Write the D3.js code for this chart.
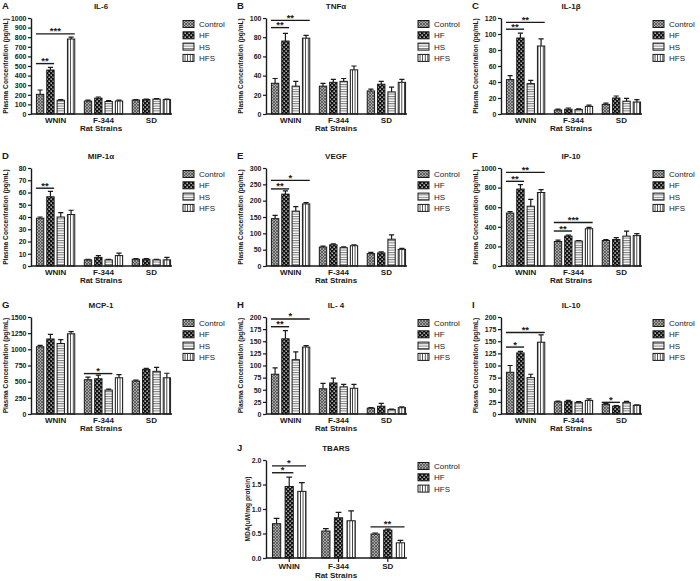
<!DOCTYPE html>
<html><head><meta charset="utf-8">
<script src="https://cdn.jsdelivr.net/npm/d3@7"></script>
<style>body{margin:0;background:#fff}svg{display:block;font-family:"Liberation Sans",Arial,sans-serif}</style>
</head><body><svg id="c" width="700" height="581"></svg>
<script>
const strains = ["WNIN","F-344","SD"];
const series4 = ["Control","HF","HS","HFS"];
const series3 = ["Control","HF","HFS"];

const il6Mean = [[205,458,143,781],[135,165,130,135],[145,150,155,150]];
const il6Err  = [[45,28,6,20],[10,12,10,10],[5,5,5,5]];
const il6Sig  = [[0,0,1,525,"**"],[0,0,3,835,"***"]];

const tnfMean = [[32,76,29,79],[29,33,34,46],[24,31,23,33]];
const tnfErr  = [[5,8,5,3],[3,3,3,4],[2,3,5,3]];
const tnfSig  = [[0,0,1,90,"**"],[0,0,3,97.5,"**"]];

const il1bMean = [[43,95,38,85],[5,6,5.5,9.5],[12,20,16,15]];
const il1bErr  = [[5,6,4,9],[1,1.5,1,1.5],[1.5,2.5,3.5,3]];
const il1bSig  = [[0,0,1,106,"**"],[0,0,3,114.5,"**"]];

const mipMean = [[39,56.5,40,42],[5,7,5,8.5],[5.5,5.5,5,5]];
const mipErr  = [[1,4.5,3.5,3.5],[0.5,1.5,0.5,2],[0.5,0.5,0.5,2]];
const mipSig  = [[0,0,1,63.5,"**"]];

const vegfMean = [[145,220,168,190],[58,65,56,62],[38,40,82,51]];
const vegfErr  = [[10,10,14,4],[3,3,3,3],[4,3,13,3]];
const vegfSig  = [[0,0,1,236,"**"],[0,0,3,262,"*"]];

const ip10Mean = [[540,785,610,750],[250,305,255,380],[260,270,305,310]];
const ip10Err  = [[15,45,70,30],[15,10,5,15],[10,20,50,20]];
const ip10Sig  = [[0,0,1,864,"**"],[0,0,3,955,"**"],[1,0,1,357,"**"],[1,0,3,444,"***"]];

const mcpMean = [[1040,1160,1090,1240],[530,545,370,560],[510,690,660,560]];
const mcpErr  = [[20,70,60,35],[40,55,15,50],[15,15,60,70]];
const mcpSig  = [[1,0,2,625,"*"]];

const il4Mean = [[82,155,112,138],[52,64,56,53],[12,16,9,13]];
const il4Err  = [[13,17,16,3],[11,10,5,8],[1,6,1,2]];
const il4Sig  = [[0,0,1,180,"**"],[0,0,3,196,"*"]];

const il10Mean = [[86,126,75,148],[25,26,24,28],[20,16,24,18]];
const il10Err  = [[14,3,7,15],[1.5,2,1.5,3],[1.5,1.5,2,1]];
const il10Sig  = [[0,0,1,138,"*"],[0,0,3,168,"**"],[2,0,1,24,"*"]];

const tbarsMean = [[0.70,1.46,1.36],[0.55,0.82,0.76],[0.49,0.57,0.31]];
const tbarsErr  = [[0.11,0.19,0.18],[0.05,0.11,0.20],[0.02,0.02,0.05]];
const tbarsSig  = [[0,0,1,1.74,"*"],[0,0,2,1.88,"*"],[2,0,2,0.635,"**"]];

const yLabelConc = "Plasma Concentration (pg/mL)";
const yLabelMDA = "MDA(uM/mg protein)";

const panels = [
  {letter:"A", title:"IL-6", mean:il6Mean, err:il6Err, sig:il6Sig, max:1000, step:100, series:series4, yl:yLabelConc},
  {letter:"B", title:"TNFα", mean:tnfMean, err:tnfErr, sig:tnfSig, max:100, step:20, series:series4, yl:yLabelConc},
  {letter:"C", title:"IL-1β", mean:il1bMean, err:il1bErr, sig:il1bSig, max:120, step:20, series:series4, yl:yLabelConc},
  {letter:"D", title:"MIP-1α", mean:mipMean, err:mipErr, sig:mipSig, max:80, step:10, series:series4, yl:yLabelConc},
  {letter:"E", title:"VEGF", mean:vegfMean, err:vegfErr, sig:vegfSig, max:300, step:50, series:series4, yl:yLabelConc},
  {letter:"F", title:"IP-10", mean:ip10Mean, err:ip10Err, sig:ip10Sig, max:1000, step:200, series:series4, yl:yLabelConc},
  {letter:"G", title:"MCP-1", mean:mcpMean, err:mcpErr, sig:mcpSig, max:1500, step:250, series:series4, yl:yLabelConc},
  {letter:"H", title:"IL- 4", mean:il4Mean, err:il4Err, sig:il4Sig, max:200, step:25, series:series4, yl:yLabelConc},
  {letter:"I", title:"IL-10", mean:il10Mean, err:il10Err, sig:il10Sig, max:200, step:25, series:series4, yl:yLabelConc},
  {letter:"J", title:"TBARS", mean:tbarsMean, err:tbarsErr, sig:tbarsSig, max:2, step:0.5, series:series3, yl:yLabelMDA, fmt:".1f", j:true}
];
// layout
const colX = [0,235,470];
const rowTop = [18,168,317,460];
const rowBot = [114,266,414,558];
const cells = [[0,0],[1,0],[2,0],[0,1],[1,1],[2,1],[0,2],[1,2],[2,2],[1,3]];

const svg = d3.select("#c");
const defs = svg.append("defs");
// patterns
const pc = defs.append("pattern").attr("id","p-Control").attr("patternUnits","userSpaceOnUse").attr("width",3).attr("height",3);
pc.append("rect").attr("width",3).attr("height",3).attr("fill","#a8a8a8");
pc.append("path").attr("d","M0,0L3,3M3,0L0,3").attr("stroke","#444").attr("stroke-width",0.7);
const ph = defs.append("pattern").attr("id","p-HF").attr("patternUnits","userSpaceOnUse").attr("width",4).attr("height",4);
ph.append("rect").attr("width",4).attr("height",4).attr("fill","#111");
ph.append("rect").attr("x",0.5).attr("y",0.5).attr("width",1.3).attr("height",1.3).attr("fill","#fff");
ph.append("rect").attr("x",2.5).attr("y",2.5).attr("width",1.3).attr("height",1.3).attr("fill","#fff");
const ps = defs.append("pattern").attr("id","p-HS").attr("patternUnits","userSpaceOnUse").attr("width",3).attr("height",2.4);
ps.append("rect").attr("width",3).attr("height",2.4).attr("fill","#fff");
ps.append("rect").attr("width",3).attr("height",1).attr("fill","#777");
const pf = defs.append("pattern").attr("id","p-HFS").attr("patternUnits","userSpaceOnUse").attr("width",2.6).attr("height",3);
pf.append("rect").attr("width",2.6).attr("height",3).attr("fill","#fff");
pf.append("rect").attr("width",0.8).attr("height",3).attr("fill","#222");

const ink = "#1a1a1a";

panels.forEach((p,i)=>{
  const [c,r] = cells[i];
  const ox = colX[c], top = rowTop[r], bot = rowBot[r];
  const g = svg.append("g").attr("transform",`translate(${ox},0)`);
  const x0 = 31, x1 = 172;
  const xs = d3.scaleBand().domain(strains).range([35,172])
    .paddingInner(p.j?0.32:0.2).paddingOuter(p.j?0.05:0.03);
  const xi = d3.scaleBand().domain(p.series).range([0,xs.bandwidth()]).paddingInner(p.j?0.35:0.29);
  const y = d3.scaleLinear().domain([0,p.max]).range([bot,top]);

  // letter & title
  g.append("text").attr("x",2).attr("y",top-9).attr("font-size",9.5).attr("font-weight","bold").attr("fill",ink).text(p.letter);
  g.append("text").attr("x",101).attr("y",top-9.5).attr("text-anchor","middle").attr("font-size",8).attr("font-weight","bold").attr("fill",ink).text(p.title);

  // y axis
  const ticks = d3.range(0,p.max+p.step/2,p.step);
  const ya = d3.axisLeft(y).tickValues(ticks).tickSize(3).tickPadding(1.5).tickSizeOuter(0);
  if(p.fmt) ya.tickFormat(d3.format(p.fmt)); else ya.tickFormat(d3.format("d"));
  const yg = g.append("g").attr("transform",`translate(${x0},0)`).call(ya);
  yg.select(".domain").attr("stroke",ink).attr("stroke-width",1.4);
  yg.selectAll(".tick line").attr("stroke",ink).attr("stroke-width",1.2);
  yg.selectAll(".tick text").attr("font-size",7).attr("font-weight","bold").attr("fill",ink).attr("font-family","Liberation Sans, Arial, sans-serif");

  // y label
  g.append("text").attr("transform",`translate(${p.j?15:8},${(top+bot)/2}) rotate(-90)`)
    .attr("text-anchor","middle").attr("font-size",6.6).attr("font-weight","bold").attr("fill",ink).text(p.yl);

  // bars
  const data = [];
  strains.forEach((s,gi)=>p.series.forEach((k,si)=>data.push({s,k,v:p.mean[gi][si],e:p.err[gi][si]})));
  const bg = g.append("g");
  bg.selectAll("rect").data(data).join("rect")
    .attr("x",d=>xs(d.s)+xi(d.k)).attr("width",xi.bandwidth())
    .attr("y",d=>y(d.v)).attr("height",d=>bot-y(d.v))
    .attr("fill",d=>`url(#p-${d.k})`).attr("stroke",ink).attr("stroke-width",1);
  // error bars
  const cw = xi.bandwidth()*0.7;
  bg.selectAll("path.err").data(data).join("path").attr("class","err")
    .attr("d",d=>{const cx=xs(d.s)+xi(d.k)+xi.bandwidth()/2; const yt=y(d.v+d.e), yb=y(d.v);
      return `M${cx},${yb}V${yt}M${cx-cw/2},${yt}H${cx+cw/2}`;})
    .attr("stroke",ink).attr("stroke-width",1.2).attr("fill","none");

  // x axis
  const xa = d3.axisBottom(xs).tickSize(p.j?4:0).tickPadding(p.j?1:3);
  const xg = g.append("g").attr("transform",`translate(0,${bot})`).call(xa);
  xg.select(".domain").remove();
  xg.selectAll(".tick line").attr("stroke",ink).attr("stroke-width",1.2);
  xg.selectAll(".tick text").attr("font-size",8).attr("font-weight","bold").attr("fill",ink).attr("font-family","Liberation Sans, Arial, sans-serif");
  g.append("line").attr("x1",x0).attr("x2",x1).attr("y1",bot).attr("y2",bot).attr("stroke",ink).attr("stroke-width",1.4);
  g.append("text").attr("x",101).attr("y",bot+(p.j?20:17)).attr("text-anchor","middle").attr("font-size",8).attr("font-weight","bold").attr("fill",ink).text("Rat Strains");

  // significance
  p.sig.forEach(([gi,a,b,v,lab])=>{
    const xa1 = xs(strains[gi])+xi(p.series[a])-0.5;
    const xb1 = xs(strains[gi])+xi(p.series[b])+xi.bandwidth();
    g.append("line").attr("x1",xa1).attr("x2",xb1).attr("y1",y(v)).attr("y2",y(v)).attr("stroke",ink).attr("stroke-width",1.4);
    g.append("text").attr("x",(xa1+xb1)/2).attr("y",y(v)+0.5).attr("text-anchor","middle").attr("font-size",9.5).attr("font-weight","bold").attr("fill",ink).text(lab);
  });

  // legend
  const lg = g.append("g");
  p.series.forEach((k,si)=>{
    const cy = top+6+si*11.3;
    lg.append("rect").attr("x",183).attr("y",cy-3.5).attr("width",11).attr("height",7).attr("fill",`url(#p-${k})`).attr("stroke",ink).attr("stroke-width",1);
    lg.append("text").attr("x",199).attr("y",cy+3).attr("font-size",8).attr("fill","#222").text(k);
  });
});
</script></body></html>
